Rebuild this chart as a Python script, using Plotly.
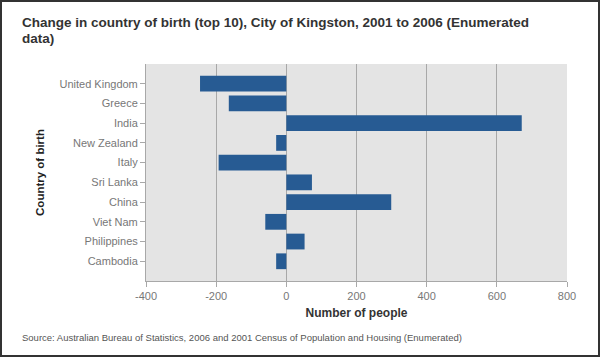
import plotly.graph_objects as go

countries = ["United Kingdom", "Greece", "India", "New Zealand", "Italy",
             "Sri Lanka", "China", "Viet Nam", "Philippines", "Cambodia"]
changes = [-246, -164, 671, -29, -193, 73, 299, -60, 52, -29]
x_ticks = [-400, -200, 0, 200, 400, 600, 800]
title_lines = ["Change in country of birth (top 10), City of Kingston, 2001 to 2006 (Enumerated",
               "data)"]
source_text = "Source: Australian Bureau of Statistics, 2006 and 2001 Census of Population and Housing (Enumerated)"

W, H = 600, 357
L, R, T, B = 146, 33, 64, 76
pw, ph = W - L - R, H - T - B
FONT = "Liberation Sans, Arial, sans-serif"


def px_x(x):
    return (x - L) / pw


def px_y(y):
    return (T + ph - y) / ph


fig = go.Figure(go.Bar(
    x=changes, y=countries, orientation="h",
    marker=dict(color="#275b93", line=dict(width=0)),
    width=0.8,
))

fig.update_layout(
    width=W, height=H,
    margin=dict(l=L, r=R, t=T, b=B),
    paper_bgcolor="white",
    plot_bgcolor="#e4e4e4",
    font=dict(family=FONT, size=11, color="#666"),
    showlegend=False,
    xaxis=dict(
        range=[-400, 800], tickvals=x_ticks, ticktext=[str(v) for v in x_ticks],
        showgrid=True, gridcolor="#a8a8a8", gridwidth=1, zeroline=False,
        showline=True, linecolor="#a8a8a8", ticks="outside", ticklen=5, tickcolor="#a8a8a8",
        tickfont=dict(size=11, color="#777"),
        title=dict(text="<b>Number of people</b>", font=dict(size=12, color="#333"), standoff=7),
    ),
    yaxis=dict(
        categoryorder="array", categoryarray=countries, autorange=False, range=[10, -1],
        showgrid=False, zeroline=False,
        showline=True, linecolor="#a8a8a8", ticks="outside", ticklen=5, tickcolor="#a8a8a8",
        tickfont=dict(size=11, color="#777"),
        title=dict(text="<b>Country of birth</b>", font=dict(size=11.5, color="#222"), standoff=12),
    ),
)

for line, ypx in zip(title_lines, [22.5, 38.5]):
    fig.add_annotation(
        text=f"<b>{line}</b>", xref="paper", yref="paper",
        x=px_x(20), y=px_y(ypx), xanchor="left", yanchor="middle", showarrow=False,
        font=dict(family=FONT, size=13.5, color="#333"),
    )

fig.add_annotation(
    text=source_text,
    xref="paper", yref="paper", x=px_x(20), y=px_y(337.5),
    xanchor="left", yanchor="middle", showarrow=False,
    font=dict(size=9.5, color="#555"),
)

fig.add_shape(
    type="rect", xref="paper", yref="paper",
    x0=px_x(1), x1=px_x(W - 1), y0=px_y(H - 1), y1=px_y(1),
    line=dict(color="#333", width=2), fillcolor="rgba(0,0,0,0)", layer="above",
)

fig.write_html(
    "out.html",
    config={"displayModeBar": False},
    post_script="document.body.style.margin='0';document.body.style.padding='0';"
                "document.documentElement.style.overflow='hidden';",
)
